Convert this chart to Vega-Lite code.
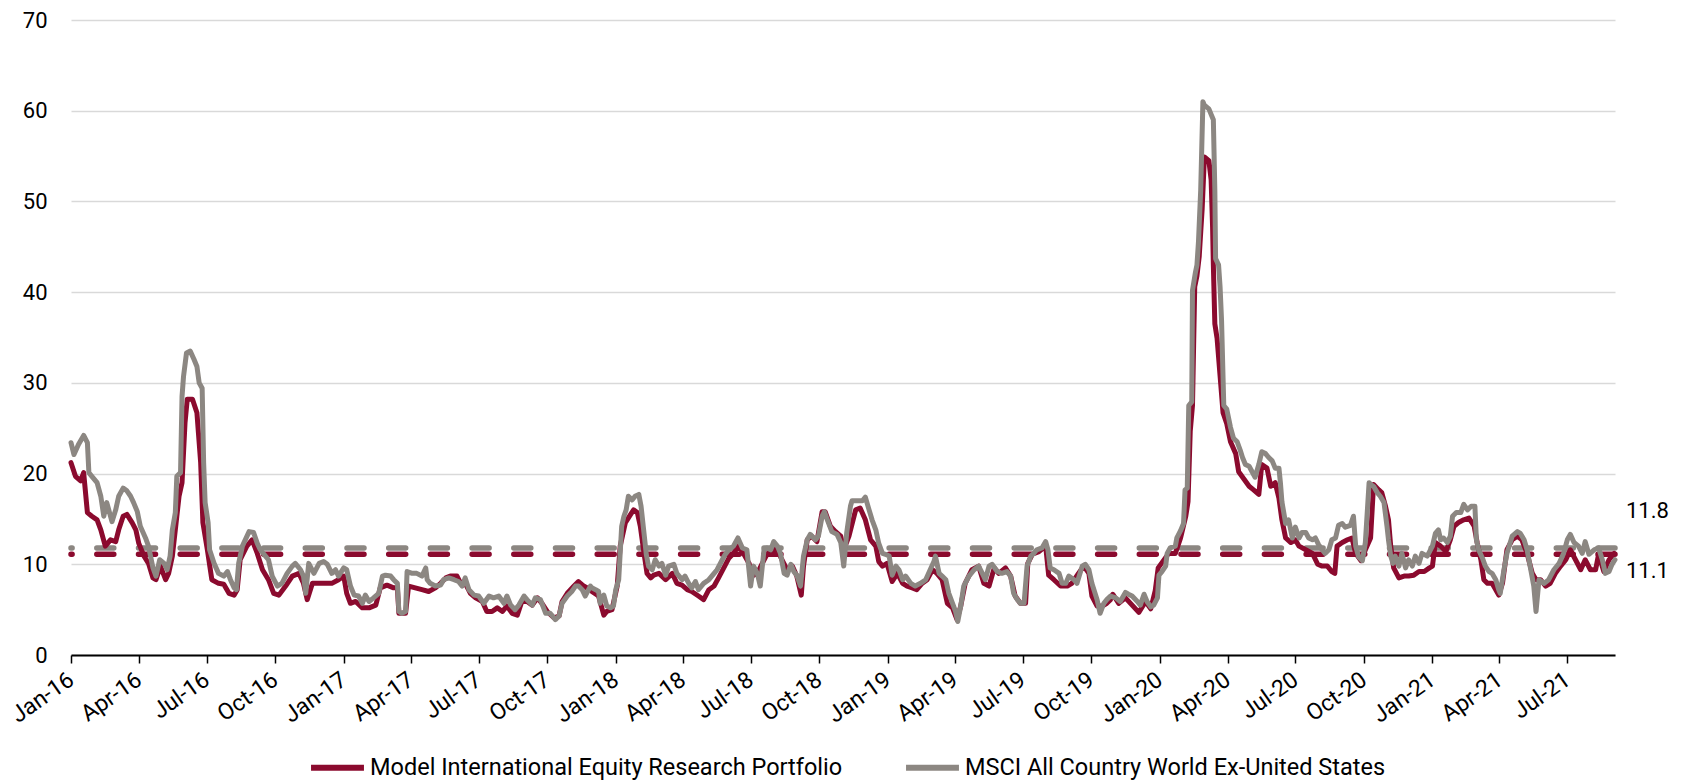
{
"$schema": "https://vega.github.io/schema/vega-lite/v6.json",
"width": 1544, "height": 635,
"autosize": {"type": "none"},
"padding": {"left": 71, "top": 20, "right": 71, "bottom": 126},
"background": "white",
"config": {"view": {"stroke": null}, "font": "Roboto", "text": {"font": "Roboto"}},
"datasets": {
"model": [
{"d":"2016-01-01","v":21.2},{"d":"2016-01-07","v":19.7},{"d":"2016-01-14","v":19.2},{"d":"2016-01-18","v":20.1},{"d":"2016-01-23","v":15.7},{"d":"2016-01-29","v":15.3},{"d":"2016-02-05","v":14.9},{"d":"2016-02-10","v":13.8},{"d":"2016-02-16","v":12.0},{"d":"2016-02-23","v":12.7},{"d":"2016-03-01","v":12.5},{"d":"2016-03-05","v":13.8},{"d":"2016-03-11","v":15.3},{"d":"2016-03-16","v":15.5},{"d":"2016-03-23","v":14.6},{"d":"2016-03-28","v":13.8},{"d":"2016-04-01","v":12.3},{"d":"2016-04-08","v":10.9},{"d":"2016-04-14","v":10.1},{"d":"2016-04-20","v":8.5},{"d":"2016-04-24","v":8.3},{"d":"2016-04-30","v":9.8},{"d":"2016-05-07","v":8.3},{"d":"2016-05-11","v":9.0},{"d":"2016-05-16","v":10.9},{"d":"2016-05-20","v":13.8},{"d":"2016-05-25","v":17.5},{"d":"2016-05-29","v":19.0},{"d":"2016-06-02","v":25.6},{"d":"2016-06-05","v":28.2},{"d":"2016-06-12","v":28.2},{"d":"2016-06-18","v":26.7},{"d":"2016-06-20","v":24.5},{"d":"2016-06-23","v":21.2},{"d":"2016-06-26","v":14.6},{"d":"2016-07-02","v":11.6},{"d":"2016-07-08","v":8.3},{"d":"2016-07-17","v":7.9},{"d":"2016-07-24","v":7.8},{"d":"2016-07-31","v":6.8},{"d":"2016-08-07","v":6.6},{"d":"2016-08-11","v":7.2},{"d":"2016-08-15","v":10.5},{"d":"2016-08-24","v":12.0},{"d":"2016-08-31","v":12.7},{"d":"2016-09-07","v":11.2},{"d":"2016-09-14","v":9.4},{"d":"2016-09-22","v":8.3},{"d":"2016-09-29","v":6.8},{"d":"2016-10-06","v":6.6},{"d":"2016-10-15","v":7.6},{"d":"2016-10-24","v":8.7},{"d":"2016-11-02","v":9.0},{"d":"2016-11-08","v":7.9},{"d":"2016-11-13","v":6.1},{"d":"2016-11-20","v":7.9},{"d":"2016-11-29","v":7.9},{"d":"2016-12-08","v":7.9},{"d":"2016-12-16","v":7.9},{"d":"2016-12-25","v":8.3},
{"d":"2017-01-01","v":8.7},{"d":"2017-01-05","v":6.8},{"d":"2017-01-10","v":5.7},{"d":"2017-01-17","v":5.9},{"d":"2017-01-26","v":5.2},{"d":"2017-02-04","v":5.2},{"d":"2017-02-13","v":5.5},{"d":"2017-02-19","v":7.4},{"d":"2017-02-28","v":7.7},{"d":"2017-03-09","v":7.4},{"d":"2017-03-14","v":7.4},{"d":"2017-03-16","v":4.6},{"d":"2017-03-25","v":4.6},{"d":"2017-03-29","v":7.6},{"d":"2017-04-07","v":7.4},{"d":"2017-04-16","v":7.2},{"d":"2017-04-25","v":7.0},{"d":"2017-05-04","v":7.4},{"d":"2017-05-11","v":7.9},{"d":"2017-05-18","v":8.5},{"d":"2017-05-24","v":8.7},{"d":"2017-06-02","v":8.7},{"d":"2017-06-07","v":7.9},{"d":"2017-06-13","v":7.9},{"d":"2017-06-20","v":6.8},{"d":"2017-06-27","v":6.3},{"d":"2017-07-06","v":5.9},{"d":"2017-07-12","v":4.8},{"d":"2017-07-19","v":4.8},{"d":"2017-07-26","v":5.2},{"d":"2017-08-02","v":4.8},{"d":"2017-08-08","v":5.4},{"d":"2017-08-15","v":4.6},{"d":"2017-08-22","v":4.4},{"d":"2017-08-28","v":5.9},{"d":"2017-09-04","v":5.9},{"d":"2017-09-11","v":5.5},{"d":"2017-09-18","v":6.3},{"d":"2017-09-24","v":5.7},{"d":"2017-10-01","v":4.8},{"d":"2017-10-10","v":4.1},{"d":"2017-10-17","v":4.3},{"d":"2017-10-21","v":5.9},{"d":"2017-10-28","v":6.8},{"d":"2017-11-06","v":7.6},{"d":"2017-11-12","v":8.1},{"d":"2017-11-19","v":7.6},{"d":"2017-11-28","v":7.2},{"d":"2017-11-30","v":7.0},{"d":"2017-12-09","v":6.5},{"d":"2017-12-16","v":4.4},{"d":"2017-12-20","v":4.8},{"d":"2017-12-27","v":5.0},
{"d":"2018-01-03","v":7.6},{"d":"2018-01-07","v":12.0},{"d":"2018-01-14","v":14.6},{"d":"2018-01-21","v":15.5},{"d":"2018-01-25","v":16.0},{"d":"2018-01-30","v":15.7},{"d":"2018-02-03","v":14.2},{"d":"2018-02-08","v":11.2},{"d":"2018-02-12","v":9.0},{"d":"2018-02-17","v":8.5},{"d":"2018-02-21","v":8.8},{"d":"2018-02-28","v":9.0},{"d":"2018-03-09","v":8.3},{"d":"2018-03-18","v":9.0},{"d":"2018-03-24","v":7.9},{"d":"2018-03-31","v":7.7},{"d":"2018-04-07","v":7.2},{"d":"2018-04-13","v":7.0},{"d":"2018-04-22","v":6.5},{"d":"2018-04-29","v":6.1},{"d":"2018-05-06","v":7.2},{"d":"2018-05-13","v":7.6},{"d":"2018-05-19","v":8.5},{"d":"2018-05-26","v":9.6},{"d":"2018-06-02","v":10.7},{"d":"2018-06-08","v":11.2},{"d":"2018-06-15","v":12.0},{"d":"2018-06-22","v":11.1},{"d":"2018-06-29","v":10.1},{"d":"2018-07-03","v":8.7},{"d":"2018-07-10","v":9.0},{"d":"2018-07-16","v":10.0},{"d":"2018-07-23","v":11.1},{"d":"2018-07-30","v":11.6},{"d":"2018-08-06","v":11.6},{"d":"2018-08-12","v":10.5},{"d":"2018-08-19","v":9.4},{"d":"2018-08-26","v":9.8},{"d":"2018-09-01","v":8.7},{"d":"2018-09-07","v":6.6},{"d":"2018-09-10","v":9.8},{"d":"2018-09-15","v":12.7},{"d":"2018-09-21","v":13.1},{"d":"2018-09-28","v":12.5},{"d":"2018-10-05","v":15.8},{"d":"2018-10-09","v":15.8},{"d":"2018-10-16","v":14.2},{"d":"2018-10-23","v":13.6},{"d":"2018-10-30","v":13.1},{"d":"2018-11-03","v":11.6},{"d":"2018-11-10","v":13.1},{"d":"2018-11-19","v":16.0},{"d":"2018-11-25","v":16.2},{"d":"2018-12-02","v":14.9},{"d":"2018-12-09","v":12.7},{"d":"2018-12-16","v":12.0},{"d":"2018-12-20","v":10.3},{"d":"2018-12-25","v":9.8},{"d":"2018-12-31","v":10.1},
{"d":"2019-01-07","v":8.1},{"d":"2019-01-14","v":9.0},{"d":"2019-01-21","v":7.9},{"d":"2019-01-27","v":7.6},{"d":"2019-02-03","v":7.4},{"d":"2019-02-09","v":7.2},{"d":"2019-02-16","v":7.9},{"d":"2019-02-23","v":8.3},{"d":"2019-03-02","v":9.4},{"d":"2019-03-08","v":9.0},{"d":"2019-03-15","v":8.3},{"d":"2019-03-22","v":5.7},{"d":"2019-03-29","v":5.2},{"d":"2019-04-04","v":3.9},{"d":"2019-04-09","v":5.4},{"d":"2019-04-15","v":7.9},{"d":"2019-04-24","v":9.4},{"d":"2019-05-03","v":9.8},{"d":"2019-05-10","v":7.9},{"d":"2019-05-17","v":7.6},{"d":"2019-05-24","v":9.6},{"d":"2019-05-30","v":9.0},{"d":"2019-06-08","v":9.6},{"d":"2019-06-15","v":8.7},{"d":"2019-06-21","v":6.5},{"d":"2019-06-28","v":5.7},{"d":"2019-07-05","v":5.7},{"d":"2019-07-08","v":10.1},{"d":"2019-07-14","v":11.1},{"d":"2019-07-23","v":11.4},{"d":"2019-08-01","v":12.0},{"d":"2019-08-05","v":8.8},{"d":"2019-08-12","v":8.3},{"d":"2019-08-21","v":7.6},{"d":"2019-08-30","v":7.6},{"d":"2019-09-05","v":7.9},{"d":"2019-09-14","v":9.0},{"d":"2019-09-21","v":9.8},{"d":"2019-09-28","v":9.0},{"d":"2019-10-02","v":6.5},{"d":"2019-10-09","v":5.4},{"d":"2019-10-16","v":5.4},{"d":"2019-10-22","v":5.7},{"d":"2019-10-27","v":6.1},{"d":"2019-10-30","v":6.7},{"d":"2019-11-07","v":5.7},{"d":"2019-11-16","v":6.3},{"d":"2019-11-25","v":5.5},{"d":"2019-12-04","v":4.7},{"d":"2019-12-13","v":5.9},{"d":"2019-12-20","v":5.1},{"d":"2019-12-26","v":7.1},{"d":"2019-12-30","v":9.6},
{"d":"2020-01-06","v":10.4},{"d":"2020-01-13","v":11.2},{"d":"2020-01-22","v":11.2},{"d":"2020-01-29","v":12.9},{"d":"2020-02-05","v":15.3},{"d":"2020-02-08","v":16.9},{"d":"2020-02-11","v":24.7},{"d":"2020-02-14","v":27.5},{"d":"2020-02-17","v":40.6},{"d":"2020-02-20","v":41.8},{"d":"2020-02-23","v":43.9},{"d":"2020-02-27","v":49.2},{"d":"2020-03-01","v":54.9},{"d":"2020-03-07","v":54.5},{"d":"2020-03-10","v":52.4},{"d":"2020-03-12","v":47.1},{"d":"2020-03-13","v":43.0},{"d":"2020-03-15","v":36.5},{"d":"2020-03-18","v":34.9},{"d":"2020-03-22","v":30.8},{"d":"2020-03-26","v":26.7},{"d":"2020-03-31","v":25.5},{"d":"2020-04-05","v":23.5},{"d":"2020-04-12","v":22.2},{"d":"2020-04-16","v":20.2},{"d":"2020-04-23","v":19.4},{"d":"2020-04-30","v":18.6},{"d":"2020-05-06","v":18.2},{"d":"2020-05-13","v":17.7},{"d":"2020-05-17","v":21.0},{"d":"2020-05-24","v":20.6},{"d":"2020-05-29","v":18.6},{"d":"2020-06-04","v":19.0},{"d":"2020-06-09","v":17.3},{"d":"2020-06-13","v":14.9},{"d":"2020-06-18","v":12.9},{"d":"2020-06-25","v":12.4},{"d":"2020-07-01","v":12.7},{"d":"2020-07-06","v":12.0},{"d":"2020-07-15","v":11.6},{"d":"2020-07-24","v":11.2},{"d":"2020-07-31","v":10.0},{"d":"2020-08-06","v":9.8},{"d":"2020-08-13","v":9.8},{"d":"2020-08-19","v":9.2},{"d":"2020-08-23","v":9.0},{"d":"2020-08-26","v":12.0},{"d":"2020-09-02","v":12.4},{"d":"2020-09-09","v":12.7},{"d":"2020-09-15","v":12.9},{"d":"2020-09-20","v":11.2},{"d":"2020-09-27","v":10.4},{"d":"2020-10-03","v":11.6},{"d":"2020-10-10","v":12.9},{"d":"2020-10-14","v":18.8},{"d":"2020-10-21","v":18.2},{"d":"2020-10-25","v":17.9},{"d":"2020-10-30","v":16.4},{"d":"2020-11-03","v":14.9},{"d":"2020-11-06","v":12.0},{"d":"2020-11-10","v":9.6},{"d":"2020-11-17","v":8.5},{"d":"2020-11-24","v":8.7},{"d":"2020-11-30","v":8.7},{"d":"2020-12-07","v":8.8},{"d":"2020-12-14","v":9.2},{"d":"2020-12-21","v":9.2},{"d":"2020-12-28","v":9.6},
{"d":"2021-01-01","v":9.8},{"d":"2021-01-05","v":12.4},{"d":"2021-01-12","v":12.0},{"d":"2021-01-19","v":11.4},{"d":"2021-01-25","v":12.7},{"d":"2021-01-30","v":14.2},{"d":"2021-02-05","v":14.6},{"d":"2021-02-12","v":14.9},{"d":"2021-02-19","v":15.1},{"d":"2021-02-26","v":14.2},{"d":"2021-03-02","v":12.4},{"d":"2021-03-07","v":10.5},{"d":"2021-03-11","v":8.3},{"d":"2021-03-16","v":7.9},{"d":"2021-03-22","v":7.9},{"d":"2021-03-27","v":7.2},{"d":"2021-03-31","v":6.6},{"d":"2021-04-05","v":7.9},{"d":"2021-04-11","v":11.6},{"d":"2021-04-18","v":12.7},{"d":"2021-04-25","v":13.1},{"d":"2021-05-01","v":12.7},{"d":"2021-05-08","v":11.2},{"d":"2021-05-15","v":9.0},{"d":"2021-05-20","v":8.3},{"d":"2021-05-26","v":8.3},{"d":"2021-06-02","v":7.6},{"d":"2021-06-08","v":7.9},{"d":"2021-06-15","v":9.0},{"d":"2021-06-22","v":9.8},{"d":"2021-06-29","v":10.5},{"d":"2021-07-05","v":11.6},{"d":"2021-07-12","v":10.5},{"d":"2021-07-19","v":9.4},{"d":"2021-07-25","v":10.5},{"d":"2021-08-01","v":9.4},{"d":"2021-08-08","v":9.4},{"d":"2021-08-12","v":11.1},{"d":"2021-08-19","v":9.2},{"d":"2021-08-26","v":10.5},{"d":"2021-09-02","v":11.2}
],
"msci": [
{"d":"2016-01-01","v":23.4},{"d":"2016-01-05","v":22.1},{"d":"2016-01-11","v":23.2},{"d":"2016-01-18","v":24.2},{"d":"2016-01-23","v":23.4},{"d":"2016-01-25","v":20.1},{"d":"2016-01-29","v":19.7},{"d":"2016-02-05","v":19.0},{"d":"2016-02-10","v":17.5},{"d":"2016-02-14","v":15.3},{"d":"2016-02-18","v":16.8},{"d":"2016-02-25","v":14.7},{"d":"2016-03-01","v":16.0},{"d":"2016-03-05","v":17.5},{"d":"2016-03-11","v":18.4},{"d":"2016-03-16","v":18.1},{"d":"2016-03-21","v":17.5},{"d":"2016-03-25","v":16.8},{"d":"2016-03-30","v":15.8},{"d":"2016-04-03","v":14.2},{"d":"2016-04-10","v":12.9},{"d":"2016-04-14","v":12.0},{"d":"2016-04-20","v":9.6},{"d":"2016-04-24","v":8.7},{"d":"2016-04-29","v":10.5},{"d":"2016-05-05","v":10.1},{"d":"2016-05-09","v":9.4},{"d":"2016-05-13","v":10.9},{"d":"2016-05-16","v":13.8},{"d":"2016-05-20","v":15.7},{"d":"2016-05-22","v":19.7},{"d":"2016-05-27","v":20.1},{"d":"2016-05-29","v":28.5},{"d":"2016-05-31","v":30.7},{"d":"2016-06-04","v":33.3},{"d":"2016-06-09","v":33.5},{"d":"2016-06-14","v":32.6},{"d":"2016-06-18","v":31.8},{"d":"2016-06-21","v":30.0},{"d":"2016-06-25","v":29.4},{"d":"2016-06-27","v":21.2},{"d":"2016-06-29","v":16.8},{"d":"2016-07-03","v":14.6},{"d":"2016-07-05","v":11.6},{"d":"2016-07-11","v":10.1},{"d":"2016-07-17","v":9.0},{"d":"2016-07-24","v":8.7},{"d":"2016-07-29","v":9.2},{"d":"2016-08-02","v":8.3},{"d":"2016-08-07","v":7.4},{"d":"2016-08-10","v":7.2},{"d":"2016-08-13","v":10.1},{"d":"2016-08-18","v":12.0},{"d":"2016-08-27","v":13.6},{"d":"2016-09-02","v":13.5},{"d":"2016-09-07","v":12.3},{"d":"2016-09-11","v":11.6},{"d":"2016-09-18","v":10.9},{"d":"2016-09-22","v":10.5},{"d":"2016-09-27","v":8.7},{"d":"2016-10-04","v":7.6},{"d":"2016-10-10","v":7.9},{"d":"2016-10-17","v":9.0},{"d":"2016-10-24","v":9.8},{"d":"2016-10-28","v":10.1},{"d":"2016-11-04","v":9.4},{"d":"2016-11-08","v":8.7},{"d":"2016-11-11","v":6.8},{"d":"2016-11-15","v":10.1},{"d":"2016-11-22","v":9.0},{"d":"2016-11-29","v":10.1},{"d":"2016-12-05","v":10.3},{"d":"2016-12-10","v":10.0},{"d":"2016-12-16","v":9.0},{"d":"2016-12-21","v":9.4},{"d":"2016-12-25","v":8.7},
{"d":"2017-01-01","v":9.6},{"d":"2017-01-05","v":9.4},{"d":"2017-01-10","v":7.6},{"d":"2017-01-15","v":6.6},{"d":"2017-01-21","v":6.5},{"d":"2017-01-26","v":5.7},{"d":"2017-01-30","v":6.6},{"d":"2017-02-04","v":5.9},{"d":"2017-02-10","v":6.3},{"d":"2017-02-17","v":6.8},{"d":"2017-02-22","v":8.7},{"d":"2017-02-26","v":8.8},{"d":"2017-03-05","v":8.7},{"d":"2017-03-09","v":8.3},{"d":"2017-03-14","v":7.9},{"d":"2017-03-16","v":4.8},{"d":"2017-03-20","v":4.6},{"d":"2017-03-25","v":4.8},{"d":"2017-03-27","v":9.2},{"d":"2017-04-03","v":9.0},{"d":"2017-04-09","v":9.0},{"d":"2017-04-16","v":8.7},{"d":"2017-04-21","v":9.6},{"d":"2017-04-23","v":8.3},{"d":"2017-04-27","v":7.9},{"d":"2017-05-04","v":7.6},{"d":"2017-05-11","v":7.7},{"d":"2017-05-15","v":8.3},{"d":"2017-05-22","v":8.5},{"d":"2017-05-29","v":8.3},{"d":"2017-06-04","v":8.1},{"d":"2017-06-09","v":7.6},{"d":"2017-06-13","v":8.5},{"d":"2017-06-18","v":7.2},{"d":"2017-06-25","v":6.6},{"d":"2017-07-01","v":6.5},{"d":"2017-07-08","v":5.7},{"d":"2017-07-15","v":6.5},{"d":"2017-07-21","v":6.3},{"d":"2017-07-28","v":6.5},{"d":"2017-08-04","v":5.7},{"d":"2017-08-08","v":6.5},{"d":"2017-08-13","v":5.5},{"d":"2017-08-19","v":5.0},{"d":"2017-08-24","v":5.5},{"d":"2017-08-31","v":6.5},{"d":"2017-09-04","v":6.1},{"d":"2017-09-11","v":5.5},{"d":"2017-09-15","v":6.3},{"d":"2017-09-22","v":6.1},{"d":"2017-09-29","v":4.6},{"d":"2017-10-05","v":4.6},{"d":"2017-10-12","v":3.9},{"d":"2017-10-17","v":4.3},{"d":"2017-10-21","v":5.7},{"d":"2017-10-28","v":6.5},{"d":"2017-11-03","v":7.0},{"d":"2017-11-08","v":7.6},{"d":"2017-11-12","v":7.6},{"d":"2017-11-17","v":7.2},{"d":"2017-11-21","v":6.5},{"d":"2017-11-28","v":7.6},{"d":"2017-11-30","v":7.4},{"d":"2017-12-05","v":7.2},{"d":"2017-12-09","v":7.0},{"d":"2017-12-11","v":5.7},{"d":"2017-12-16","v":6.6},{"d":"2017-12-20","v":5.4},{"d":"2017-12-25","v":5.2},{"d":"2017-12-29","v":5.4},
{"d":"2018-01-01","v":7.2},{"d":"2018-01-05","v":8.3},{"d":"2018-01-09","v":14.2},{"d":"2018-01-12","v":15.3},{"d":"2018-01-15","v":16.0},{"d":"2018-01-18","v":17.5},{"d":"2018-01-23","v":17.1},{"d":"2018-01-27","v":17.5},{"d":"2018-02-01","v":17.7},{"d":"2018-02-04","v":16.4},{"d":"2018-02-08","v":13.4},{"d":"2018-02-11","v":11.1},{"d":"2018-02-14","v":9.8},{"d":"2018-02-19","v":9.4},{"d":"2018-02-23","v":10.5},{"d":"2018-02-28","v":9.8},{"d":"2018-03-04","v":10.1},{"d":"2018-03-09","v":8.8},{"d":"2018-03-13","v":9.8},{"d":"2018-03-20","v":10.0},{"d":"2018-03-24","v":9.0},{"d":"2018-03-31","v":8.3},{"d":"2018-04-04","v":8.7},{"d":"2018-04-09","v":7.9},{"d":"2018-04-13","v":7.4},{"d":"2018-04-18","v":8.1},{"d":"2018-04-22","v":7.2},{"d":"2018-04-29","v":7.9},{"d":"2018-05-06","v":8.3},{"d":"2018-05-13","v":9.0},{"d":"2018-05-17","v":9.4},{"d":"2018-05-24","v":10.5},{"d":"2018-05-28","v":11.1},{"d":"2018-06-02","v":11.6},{"d":"2018-06-08","v":12.0},{"d":"2018-06-14","v":12.9},{"d":"2018-06-20","v":11.8},{"d":"2018-06-26","v":11.6},{"d":"2018-07-01","v":7.6},{"d":"2018-07-05","v":9.8},{"d":"2018-07-10","v":9.0},{"d":"2018-07-14","v":7.6},{"d":"2018-07-19","v":11.6},{"d":"2018-07-23","v":11.8},{"d":"2018-07-28","v":11.6},{"d":"2018-08-01","v":12.5},{"d":"2018-08-06","v":12.0},{"d":"2018-08-10","v":11.2},{"d":"2018-08-15","v":9.0},{"d":"2018-08-19","v":8.8},{"d":"2018-08-24","v":10.0},{"d":"2018-08-28","v":9.2},{"d":"2018-09-01","v":8.8},{"d":"2018-09-06","v":7.6},{"d":"2018-09-10","v":10.9},{"d":"2018-09-15","v":12.7},{"d":"2018-09-19","v":13.3},{"d":"2018-09-26","v":12.7},{"d":"2018-09-30","v":13.1},{"d":"2018-10-05","v":15.3},{"d":"2018-10-08","v":15.8},{"d":"2018-10-12","v":14.9},{"d":"2018-10-18","v":13.6},{"d":"2018-10-25","v":13.3},{"d":"2018-10-30","v":12.4},{"d":"2018-11-03","v":9.8},{"d":"2018-11-07","v":13.5},{"d":"2018-11-12","v":16.4},{"d":"2018-11-14","v":17.0},{"d":"2018-11-21","v":17.0},{"d":"2018-11-28","v":17.0},{"d":"2018-12-02","v":17.4},{"d":"2018-12-07","v":16.0},{"d":"2018-12-11","v":14.9},{"d":"2018-12-16","v":13.8},{"d":"2018-12-20","v":12.3},{"d":"2018-12-25","v":11.2},{"d":"2018-12-29","v":11.1},
{"d":"2019-01-03","v":10.9},{"d":"2019-01-07","v":8.8},{"d":"2019-01-12","v":9.8},{"d":"2019-01-16","v":9.4},{"d":"2019-01-21","v":8.3},{"d":"2019-01-25","v":8.7},{"d":"2019-02-01","v":7.9},{"d":"2019-02-07","v":7.6},{"d":"2019-02-14","v":7.9},{"d":"2019-02-21","v":8.3},{"d":"2019-02-27","v":9.4},{"d":"2019-03-04","v":10.3},{"d":"2019-03-06","v":10.9},{"d":"2019-03-11","v":9.0},{"d":"2019-03-15","v":8.7},{"d":"2019-03-20","v":8.3},{"d":"2019-03-24","v":6.8},{"d":"2019-03-29","v":5.7},{"d":"2019-04-02","v":4.8},{"d":"2019-04-05","v":3.7},{"d":"2019-04-09","v":5.4},{"d":"2019-04-13","v":7.6},{"d":"2019-04-20","v":8.7},{"d":"2019-04-27","v":9.4},{"d":"2019-05-03","v":9.8},{"d":"2019-05-08","v":9.0},{"d":"2019-05-12","v":8.3},{"d":"2019-05-17","v":9.8},{"d":"2019-05-21","v":10.0},{"d":"2019-05-28","v":9.2},{"d":"2019-06-03","v":9.0},{"d":"2019-06-10","v":9.2},{"d":"2019-06-15","v":8.7},{"d":"2019-06-19","v":6.8},{"d":"2019-06-24","v":6.1},{"d":"2019-06-28","v":5.7},{"d":"2019-07-03","v":5.7},{"d":"2019-07-07","v":9.8},{"d":"2019-07-12","v":10.9},{"d":"2019-07-16","v":11.2},{"d":"2019-07-20","v":11.6},{"d":"2019-07-27","v":11.8},{"d":"2019-08-01","v":12.5},{"d":"2019-08-04","v":11.6},{"d":"2019-08-07","v":9.6},{"d":"2019-08-12","v":9.4},{"d":"2019-08-19","v":9.0},{"d":"2019-08-23","v":7.9},{"d":"2019-08-28","v":7.9},{"d":"2019-09-01","v":8.7},{"d":"2019-09-08","v":8.3},{"d":"2019-09-12","v":7.9},{"d":"2019-09-19","v":9.8},{"d":"2019-09-23","v":10.0},{"d":"2019-09-28","v":9.4},{"d":"2019-10-02","v":7.9},{"d":"2019-10-09","v":6.1},{"d":"2019-10-13","v":4.6},{"d":"2019-10-18","v":5.7},{"d":"2019-10-22","v":6.1},{"d":"2019-10-27","v":6.5},{"d":"2019-11-03","v":6.3},{"d":"2019-11-09","v":5.9},{"d":"2019-11-16","v":6.9},{"d":"2019-11-20","v":6.7},{"d":"2019-11-25","v":6.5},{"d":"2019-12-02","v":5.9},{"d":"2019-12-06","v":5.5},{"d":"2019-12-11","v":6.7},{"d":"2019-12-15","v":5.9},{"d":"2019-12-20","v":5.3},{"d":"2019-12-24","v":5.5},{"d":"2019-12-29","v":6.3},{"d":"2019-12-31","v":8.8},
{"d":"2020-01-04","v":9.2},{"d":"2020-01-09","v":9.8},{"d":"2020-01-11","v":11.2},{"d":"2020-01-15","v":11.8},{"d":"2020-01-22","v":12.0},{"d":"2020-01-24","v":12.9},{"d":"2020-01-29","v":13.7},{"d":"2020-02-02","v":14.5},{"d":"2020-02-04","v":18.2},{"d":"2020-02-07","v":18.4},{"d":"2020-02-09","v":27.5},{"d":"2020-02-13","v":27.9},{"d":"2020-02-14","v":40.2},{"d":"2020-02-18","v":42.2},{"d":"2020-02-20","v":43.0},{"d":"2020-02-22","v":45.5},{"d":"2020-02-25","v":51.2},{"d":"2020-02-28","v":61.0},{"d":"2020-03-01","v":60.6},{"d":"2020-03-07","v":60.2},{"d":"2020-03-10","v":59.6},{"d":"2020-03-13","v":59.0},{"d":"2020-03-15","v":51.2},{"d":"2020-03-16","v":43.7},{"d":"2020-03-20","v":43.0},{"d":"2020-03-22","v":40.6},{"d":"2020-03-24","v":36.9},{"d":"2020-03-27","v":27.5},{"d":"2020-03-31","v":27.1},{"d":"2020-04-05","v":25.1},{"d":"2020-04-09","v":23.9},{"d":"2020-04-14","v":23.5},{"d":"2020-04-18","v":22.6},{"d":"2020-04-21","v":21.8},{"d":"2020-04-25","v":21.0},{"d":"2020-04-30","v":20.8},{"d":"2020-05-04","v":20.2},{"d":"2020-05-08","v":19.6},{"d":"2020-05-13","v":21.0},{"d":"2020-05-17","v":22.4},{"d":"2020-05-22","v":22.2},{"d":"2020-05-26","v":21.8},{"d":"2020-05-31","v":21.4},{"d":"2020-06-04","v":20.6},{"d":"2020-06-09","v":20.6},{"d":"2020-06-11","v":19.0},{"d":"2020-06-13","v":16.9},{"d":"2020-06-18","v":14.5},{"d":"2020-06-22","v":14.9},{"d":"2020-06-27","v":12.9},{"d":"2020-07-01","v":14.1},{"d":"2020-07-06","v":12.9},{"d":"2020-07-10","v":13.5},{"d":"2020-07-15","v":13.5},{"d":"2020-07-19","v":12.9},{"d":"2020-07-24","v":12.7},{"d":"2020-07-28","v":12.9},{"d":"2020-08-01","v":12.2},{"d":"2020-08-06","v":11.6},{"d":"2020-08-10","v":11.2},{"d":"2020-08-15","v":11.6},{"d":"2020-08-19","v":12.7},{"d":"2020-08-24","v":12.9},{"d":"2020-08-28","v":14.3},{"d":"2020-09-02","v":14.5},{"d":"2020-09-06","v":14.1},{"d":"2020-09-13","v":14.3},{"d":"2020-09-17","v":15.3},{"d":"2020-09-20","v":12.0},{"d":"2020-09-24","v":10.8},{"d":"2020-09-29","v":10.4},{"d":"2020-10-03","v":12.4},{"d":"2020-10-08","v":19.0},{"d":"2020-10-10","v":18.8},{"d":"2020-10-14","v":18.6},{"d":"2020-10-19","v":17.9},{"d":"2020-10-23","v":17.5},{"d":"2020-10-28","v":16.8},{"d":"2020-11-01","v":14.2},{"d":"2020-11-03","v":12.7},{"d":"2020-11-06","v":10.9},{"d":"2020-11-09","v":10.1},{"d":"2020-11-12","v":10.9},{"d":"2020-11-17","v":9.8},{"d":"2020-11-21","v":11.2},{"d":"2020-11-26","v":9.6},{"d":"2020-11-30","v":10.5},{"d":"2020-12-05","v":9.8},{"d":"2020-12-09","v":10.9},{"d":"2020-12-14","v":10.1},{"d":"2020-12-18","v":11.2},{"d":"2020-12-25","v":10.9},
{"d":"2021-01-01","v":12.0},{"d":"2021-01-05","v":13.4},{"d":"2021-01-09","v":13.8},{"d":"2021-01-12","v":12.7},{"d":"2021-01-16","v":12.9},{"d":"2021-01-21","v":12.4},{"d":"2021-01-25","v":13.1},{"d":"2021-01-28","v":15.3},{"d":"2021-02-02","v":15.7},{"d":"2021-02-08","v":15.7},{"d":"2021-02-12","v":16.6},{"d":"2021-02-17","v":16.0},{"d":"2021-02-22","v":16.4},{"d":"2021-02-27","v":16.4},{"d":"2021-03-01","v":12.7},{"d":"2021-03-04","v":11.6},{"d":"2021-03-09","v":10.7},{"d":"2021-03-13","v":9.8},{"d":"2021-03-18","v":9.2},{"d":"2021-03-22","v":9.0},{"d":"2021-03-27","v":8.3},{"d":"2021-03-31","v":7.2},{"d":"2021-04-02","v":6.8},{"d":"2021-04-07","v":9.4},{"d":"2021-04-11","v":11.2},{"d":"2021-04-18","v":13.1},{"d":"2021-04-25","v":13.6},{"d":"2021-04-29","v":13.4},{"d":"2021-05-04","v":12.7},{"d":"2021-05-08","v":11.6},{"d":"2021-05-13","v":9.4},{"d":"2021-05-17","v":7.6},{"d":"2021-05-20","v":4.8},{"d":"2021-05-24","v":8.3},{"d":"2021-05-31","v":7.9},{"d":"2021-06-06","v":8.3},{"d":"2021-06-13","v":9.4},{"d":"2021-06-20","v":10.1},{"d":"2021-06-26","v":11.2},{"d":"2021-07-01","v":12.7},{"d":"2021-07-05","v":13.3},{"d":"2021-07-10","v":12.4},{"d":"2021-07-16","v":12.0},{"d":"2021-07-21","v":11.2},{"d":"2021-07-25","v":12.5},{"d":"2021-07-30","v":11.1},{"d":"2021-08-06","v":11.6},{"d":"2021-08-12","v":11.8},{"d":"2021-08-17","v":10.5},{"d":"2021-08-21","v":9.0},{"d":"2021-08-26","v":9.2},{"d":"2021-08-30","v":10.0},{"d":"2021-09-03","v":10.5}
],
"averages": [{"name":"Model International Equity Research Portfolio","v":11.1},{"name":"MSCI All Country World Ex-United States","v":11.8}]
},
"layer": [
{
"data": {"name": "averages"},
"transform": [{"filter": "datum.v == 11.8"}],
"mark": {"type": "rule", "color": "#8c8782", "strokeWidth": 5.5, "strokeDash": [17, 24.7], "strokeCap": "round"},
"encoding": {"y": {"field": "v", "type": "quantitative", "scale": {"domain": [0, 70], "nice": false, "zero": true}, "axis": {"values": [0,10,20,30,40,50,60,70], "title": null, "domain": false, "ticks": false, "grid": true, "gridColor": "#d9d9d9", "gridWidth": 1.5, "labelFontSize": 22, "labelPadding": 24, "labelColor": "#000000", "labelFont": "Roboto"}}}
},
{
"data": {"name": "averages"},
"transform": [{"filter": "datum.v == 11.1"}],
"mark": {"type": "rule", "color": "#8b0a2e", "strokeWidth": 5.5, "strokeDash": [17, 24.7], "strokeCap": "round"},
"encoding": {"y": {"field": "v", "type": "quantitative"}}
},
{
"data": {"name": "model"},
"mark": {"type": "line", "strokeWidth": 5, "strokeJoin": "round", "strokeCap": "round"},
"encoding": {
"x": {"field": "d", "type": "temporal", "title": null,
"scale": {"type": "utc", "domain": [{"year": 2016, "month": 1, "date": 1, "utc": true}, {"year": 2021, "month": 9, "date": 3, "utc": true}]},
"axis": {"format": "%b-%y", "tickCount": {"interval": "month", "step": 3}, "labelAngle": -35, "labelAlign": "right", "labelBaseline": "middle", "labelFontSize": 23, "labelFont": "Roboto", "labelColor": "#000000", "labelPadding": 14, "labelFlush": false, "labelOverlap": false, "domainColor": "#000000", "domainWidth": 2, "tickColor": "#000000", "tickWidth": 1.5, "tickSize": 8, "grid": false}},
"y": {"field": "v", "type": "quantitative"},
"color": {"datum": "Model International Equity Research Portfolio", "type": "nominal",
"scale": {"domain": ["Model International Equity Research Portfolio", "MSCI All Country World Ex-United States"], "range": ["#8b0a2e", "#8c8782"]},
"legend": {"orient": "none", "legendX": 237, "legendY": 718, "direction": "horizontal", "title": null, "symbolType": "stroke", "symbolSize": 2800, "symbolStrokeWidth": 6, "labelFontSize": 23.5, "labelFont": "Roboto", "labelColor": "#000000", "labelOffset": 3, "columnPadding": 51, "labelLimit": 700}}
}
},
{
"data": {"name": "msci"},
"mark": {"type": "line", "strokeWidth": 5, "strokeJoin": "round", "strokeCap": "round"},
"encoding": {
"x": {"field": "d", "type": "temporal"},
"y": {"field": "v", "type": "quantitative"},
"color": {"datum": "MSCI All Country World Ex-United States", "type": "nominal"}
}
},
{
"data": {"name": "averages"},
"transform": [{"filter": "datum.v == 11.8"}],
"mark": {"type": "text", "align": "left", "baseline": "middle", "dx": 11, "dy": -37, "fontSize": 22, "font": "Roboto", "color": "#000000"},
"encoding": {"x": {"datum": {"year": 2021, "month": 9, "date": 3, "utc": true}, "type": "temporal"}, "y": {"field": "v", "type": "quantitative"}, "text": {"field": "v", "type": "quantitative", "format": ".1f"}}
},
{
"data": {"name": "averages"},
"transform": [{"filter": "datum.v == 11.1"}],
"mark": {"type": "text", "align": "left", "baseline": "middle", "dx": 11, "dy": 17, "fontSize": 22, "font": "Roboto", "color": "#000000"},
"encoding": {"x": {"datum": {"year": 2021, "month": 9, "date": 3, "utc": true}, "type": "temporal"}, "y": {"field": "v", "type": "quantitative"}, "text": {"field": "v", "type": "quantitative", "format": ".1f"}}
}
]
}
